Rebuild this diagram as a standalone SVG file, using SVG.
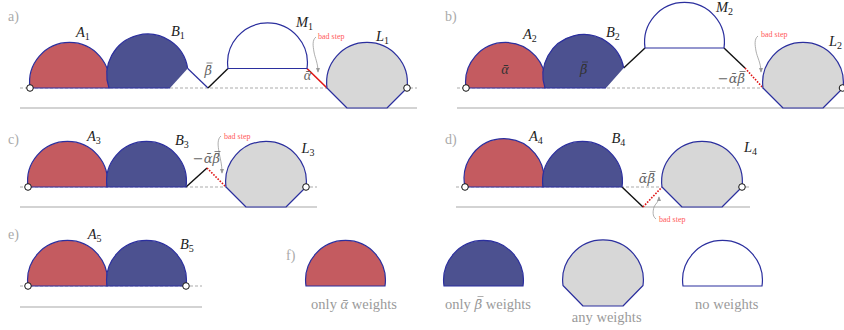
<svg xmlns="http://www.w3.org/2000/svg" width="844" height="330" viewBox="0 0 844 330" font-family="'Liberation Serif', 'Times New Roman', 'DejaVu Serif', serif">
<style>
.red{fill:#c45b60;stroke:#2b2f9e;stroke-width:1.2}
.blue{fill:#4c5190;stroke:#2b2f9e;stroke-width:1.2}
.bluefill{fill:#4c5190;stroke:none}
.gray{fill:#d7d7d7;stroke:#2b2f9e;stroke-width:1.2;stroke-linejoin:round}
.white{fill:#fff;stroke:#2b2f9e;stroke-width:1.2}
.edge{fill:none;stroke:#2b2f9e;stroke-width:1.2}
.base{stroke:#a8a8a8;stroke-width:1.2}
.dash{stroke:#888;stroke-width:0.7;stroke-dasharray:3 2}
.blk{stroke:#111;stroke-width:1.4;fill:none}
.bad{stroke:#e01515;stroke-width:1.6}
.baddot{stroke:#e01515;stroke-width:1.6;stroke-dasharray:1.6 1.4}
.pt{fill:#fff;stroke:#111;stroke-width:1}
text{font-family:'Liberation Serif','Times New Roman','DejaVu Serif',serif}
.lbl{font-style:italic;font-size:14.5px;fill:#222}
.sub{font-size:10px;font-style:normal}
.pan{font-size:14px;fill:#aaa}
.note{font-size:8px;fill:#ff5a5a}
.ptr{fill:none;stroke:#999;stroke-width:0.8}
.cap{font-size:14.5px;fill:#9a9a9a}
.wt{font-style:italic;font-size:14px;fill:#666;text-anchor:end}
.in{font-style:italic;font-size:14px;fill:#333}
.gk{font-family:'DejaVu Serif','Liberation Serif',serif;font-size:13px}
.ob{stroke:#666;stroke-width:0.8}
.obd{stroke:#333;stroke-width:0.8}
.obg{stroke:#9a9a9a;stroke-width:0.8}
</style>
<defs>
<marker id="ah" viewBox="0 0 6 6" refX="5" refY="3" markerWidth="5" markerHeight="5" orient="auto-start-reverse" markerUnits="userSpaceOnUse">
<path d="M0,0.5 L6,3 L0,5.5 Z" fill="#999"/>
</marker>
</defs>

<!-- panel labels -->
<g id="panel-labels">
<text class="pan" x="8" y="21">a)</text>
<text class="pan" x="445" y="21">b)</text>
<text class="pan" x="8" y="144">c)</text>
<text class="pan" x="445" y="144">d)</text>
<text class="pan" x="8" y="239">e)</text>
<text class="pan" x="286" y="260">f)</text>
</g>

<!-- baselines -->
<g id="baselines">
<line class="base" x1="20" y1="108" x2="417" y2="108"/>
<line class="dash" x1="20" y1="88" x2="417" y2="88"/>
<line class="base" x1="457" y1="108" x2="844" y2="108"/>
<line class="dash" x1="457" y1="88" x2="844" y2="88"/>
<line class="base" x1="20" y1="207" x2="317" y2="207"/>
<line class="dash" x1="20" y1="187" x2="317" y2="187"/>
<line class="base" x1="456" y1="207" x2="750" y2="207"/>
<line class="dash" x1="456" y1="187" x2="750" y2="187"/>
<line class="base" x1="20" y1="307" x2="202" y2="307"/>
<line class="dash" x1="20" y1="286" x2="202" y2="286"/>
</g>

<!-- connectors -->
<g id="connectors">
<line class="edge" x1="187.7" y1="68.5" x2="208" y2="88"/>
<polyline class="blk" points="208,88 228,68.5"/>
<line class="bad" x1="307" y1="68.5" x2="327" y2="88"/>
<line class="blk" x1="623.7" y1="68" x2="645" y2="48"/>
<line class="blk" x1="724" y1="48" x2="745" y2="68"/>
<line class="baddot" x1="745" y1="68" x2="763" y2="88"/>
<line class="blk" x1="186" y1="187" x2="207" y2="168"/>
<line class="baddot" x1="207" y1="168" x2="226" y2="187"/>
<line class="blk" x1="622" y1="187" x2="643" y2="207"/>
<line class="baddot" x1="643" y1="207" x2="662" y2="187"/>
<path class="ptr" marker-end="url(#ah)" d="M316,37 C312,40 313,46 314,52 C315,58 318,63 318,72"/>
<path class="ptr" marker-end="url(#ah)" d="M758,36 C754,39 755,45 756,51 C757,57 761,63 761,72"/>
<path class="ptr" marker-end="url(#ah)" d="M221,136 C217,139 218,146 219,152 C220,158 222,164 222,173"/>
<path class="ptr" marker-end="url(#ah)" d="M656,219 C652,216 653,211 654,207 C655,204 659,202 659,197"/>
</g>

<!-- panel a -->
<g id="A1">
<path class="red" d="M30,88 A39.9 39.9 0 1 1 109,88 Z"/>
<text class="lbl" x="76" y="36.5">A<tspan class="sub" dy="3">1</tspan></text>
</g>
<g id="B1">
<path class="bluefill" d="M109,88 A40.7 40.7 0 1 1 187.7,68.5 L170,88 Z"/>
<path class="edge" d="M170,88 L109,88 A40.7 40.7 0 1 1 187.7,68.5"/>
<text class="lbl" x="171" y="35.5">B<tspan class="sub" dy="3">1</tspan></text>
<text class="wt gk" x="212" y="74.5">β̄</text>
<line class="ob" x1="206.5" y1="63" x2="212.5" y2="63"/>
</g>
<g id="M1">
<path class="white" d="M228,68.5 A39.9 39.9 0 1 1 307,68.5 Z"/>
<text class="lbl" x="296" y="26.5">M<tspan class="sub" dy="3">1</tspan></text>
<text class="wt" x="311" y="80">ᾱ</text>
</g>
<g id="L1">
<path class="gray" d="M327,88 A40.35 40.35 0 1 1 407,88 L387,108 L347,108 Z"/>
<text class="lbl" x="376" y="40.5">L<tspan class="sub" dy="3">1</tspan></text>
<text class="note" x="318" y="39">bad step</text>
</g>
<g id="ends-a">
<circle class="pt" cx="30" cy="88" r="3.3"/>
<circle class="pt" cx="407" cy="88" r="3.3"/>
</g>

<!-- panel b -->
<g id="A2">
<path class="red" d="M466,88 A39.9 39.9 0 1 1 545,88 Z"/>
<text class="lbl" x="523" y="39">A<tspan class="sub" dy="3">2</tspan></text>
<text class="in" x="505" y="74" text-anchor="middle">ᾱ</text>
</g>
<g id="B2">
<path class="bluefill" d="M545,88 A40.7 40.7 0 1 1 623.7,68 L606,88 Z"/>
<path class="edge" d="M606,88 L545,88 A40.7 40.7 0 1 1 623.7,68"/>
<text class="lbl" x="606" y="36.5">B<tspan class="sub" dy="3">2</tspan></text>
<text class="in gk" x="587.5" y="73.5" text-anchor="end">β̄</text>
<line class="obd" x1="582" y1="62" x2="588" y2="62"/>
</g>
<g id="M2">
<path class="white" d="M645,48 A39.9 39.9 0 1 1 724,48 Z"/>
<text class="lbl" x="716" y="12">M<tspan class="sub" dy="3">2</tspan></text>
<text class="wt gk" x="745" y="83">−ᾱβ̄</text>
<line class="ob" x1="739.5" y1="71.5" x2="745.5" y2="71.5"/>
</g>
<g id="L2">
<path class="gray" d="M763,88 A40.35 40.35 0 1 1 843,88 L823,108 L783,108 Z"/>
<text class="lbl" x="829" y="45.5">L<tspan class="sub" dy="3">2</tspan></text>
<text class="note" x="761" y="37">bad step</text>
</g>
<g id="ends-b">
<circle class="pt" cx="466" cy="88" r="3.3"/>
<circle class="pt" cx="842.5" cy="88" r="3.3"/>
</g>

<!-- panel c -->
<g id="A3">
<path class="red" d="M28,187 A39.9 39.9 0 1 1 107,187 Z"/>
<text class="lbl" x="87" y="141">A<tspan class="sub" dy="3">3</tspan></text>
</g>
<g id="B3">
<path class="blue" d="M107,187 A39.9 39.9 0 1 1 186,187 Z"/>
<text class="lbl" x="175" y="144.5">B<tspan class="sub" dy="3">3</tspan></text>
<text class="wt gk" x="220" y="163">−ᾱβ̄</text>
<line class="ob" x1="214.5" y1="151.5" x2="220.5" y2="151.5"/>
</g>
<g id="L3">
<path class="gray" d="M226,187 A40.35 40.35 0 1 1 306,187 L286,207 L246,207 Z"/>
<text class="lbl" x="301.5" y="153">L<tspan class="sub" dy="3">3</tspan></text>
<text class="note" x="224" y="139">bad step</text>
</g>
<g id="ends-c">
<circle class="pt" cx="28" cy="187" r="3.3"/>
<circle class="pt" cx="306" cy="187" r="3.3"/>
</g>

<!-- panel d -->
<g id="A4">
<path class="red" d="M465,187 A39.9 39.9 0 1 1 543,187 Z"/>
<text class="lbl" x="529" y="140.5">A<tspan class="sub" dy="3">4</tspan></text>
</g>
<g id="B4">
<path class="blue" d="M543,187 A39.9 39.9 0 1 1 622,187 Z"/>
<text class="lbl" x="611.5" y="143">B<tspan class="sub" dy="3">4</tspan></text>
<text class="wt gk" x="655" y="183">ᾱβ̄</text>
<line class="ob" x1="649.5" y1="171.5" x2="655.5" y2="171.5"/>
</g>
<g id="L4">
<path class="gray" d="M662,187 A40.35 40.35 0 1 1 742,187 L722,207 L682,207 Z"/>
<text class="lbl" x="744" y="152">L<tspan class="sub" dy="3">4</tspan></text>
<text class="note" x="659" y="222">bad step</text>
</g>
<g id="ends-d">
<circle class="pt" cx="465" cy="187" r="3.3"/>
<circle class="pt" cx="742" cy="187" r="3.3"/>
</g>

<!-- panel e -->
<g id="A5">
<path class="red" d="M28,286 A39.9 39.9 0 1 1 107,286 Z"/>
<text class="lbl" x="87.7" y="239">A<tspan class="sub" dy="3">5</tspan></text>
</g>
<g id="B5">
<path class="blue" d="M107,286 A39.9 39.9 0 1 1 186,286 Z"/>
<text class="lbl" x="180" y="248.5">B<tspan class="sub" dy="3">5</tspan></text>
</g>
<g id="ends-e">
<circle class="pt" cx="28" cy="286" r="3.3"/>
<circle class="pt" cx="186" cy="286" r="3.3"/>
</g>

<!-- panel f legend -->
<g id="legend-alpha">
<path class="red" d="M306,286 A39.9 39.9 0 1 1 385,286 Z"/>
<text class="cap" x="354" y="308.5" text-anchor="middle">only <tspan font-style="italic">ᾱ</tspan> weights</text>
</g>
<g id="legend-beta">
<path class="blue" d="M444,286 A39.9 39.9 0 1 1 523,286 Z"/>
<text class="cap" x="445" y="308.5">only <tspan font-style="italic" font-family="'DejaVu Serif', serif" font-size="13.5">β̄</tspan> weights</text>
<line class="obg" x1="477.5" y1="296.5" x2="483.5" y2="296.5"/>
</g>
<g id="legend-any">
<path class="gray" d="M563,285.5 A40.35 40.35 0 1 1 643,285.5 L623,306 L583,306 Z"/>
<text class="cap" x="606.7" y="321.5" text-anchor="middle">any weights</text>
</g>
<g id="legend-none">
<path class="white" d="M683,286 A39.9 39.9 0 1 1 762,286 Z"/>
<text class="cap" x="726.7" y="308.5" text-anchor="middle">no weights</text>
</g>
</svg>
